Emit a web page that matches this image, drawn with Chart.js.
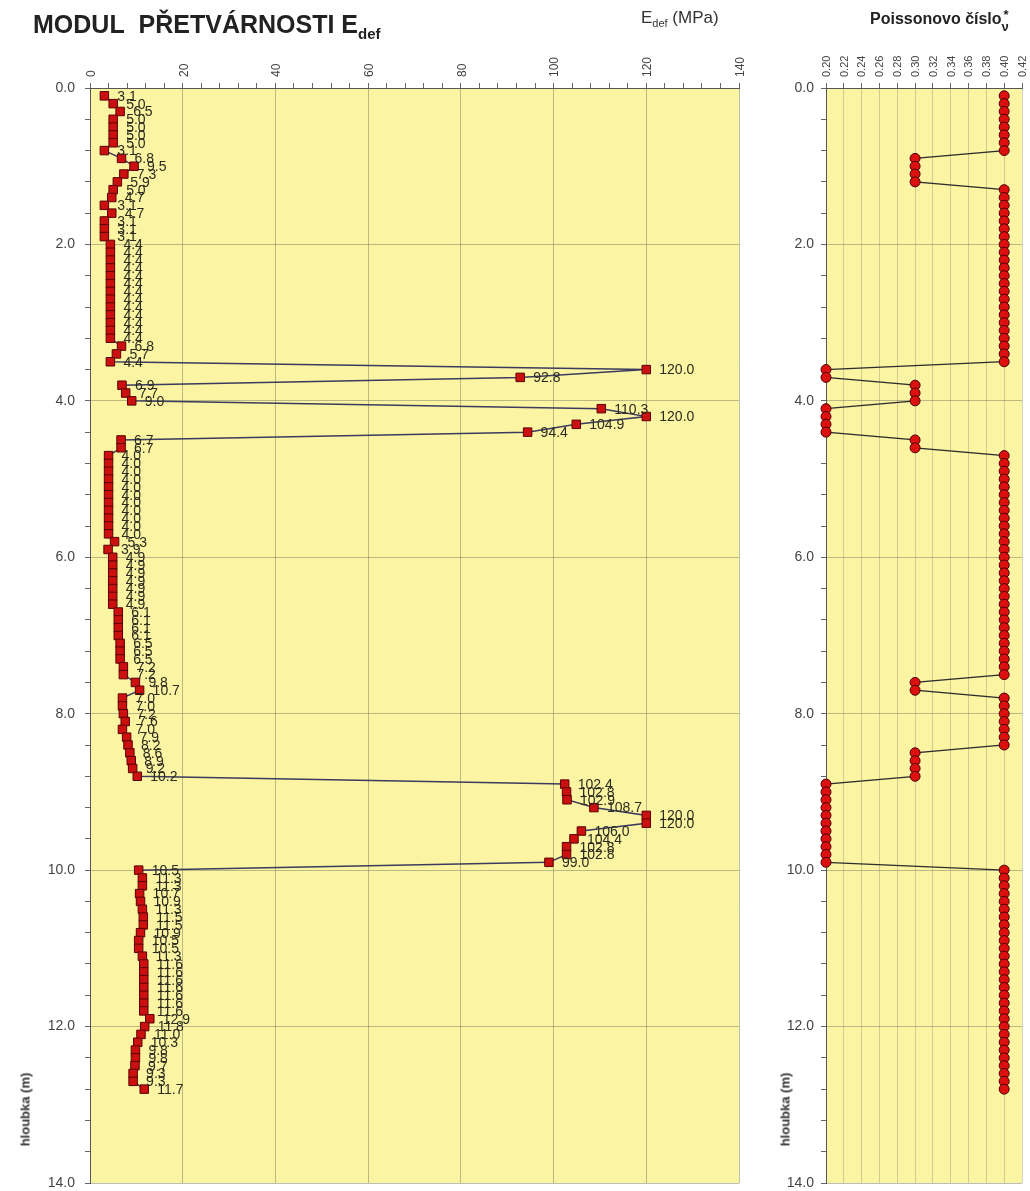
<!DOCTYPE html>
<html>
<head>
<meta charset="utf-8">
<title>Modul přetvárnosti</title>
<script src="https://cdn.jsdelivr.net/npm/chart.js@4.4.1/dist/chart.umd.min.js"></script>
<style>
  body { margin: 0; background: #fff; font-family: "Liberation Sans", Arial, sans-serif; }
  #page { position: relative; width: 1030px; height: 1191px; overflow: hidden; }
  canvas { position: absolute; top: 0; }
  .t { position: absolute; white-space: nowrap; color: #222; }
  .vt { position: absolute; transform: rotate(-90deg); transform-origin: center; font-weight: bold; font-size: 13px; color: #333; white-space: nowrap; }
</style>
</head>
<body>
<div id="page">
  <canvas id="edefChart" style="left:0" width="760" height="1191"></canvas>
  <canvas id="nuChart" style="left:760px" width="270" height="1191"></canvas>

  <div class="t" style="left:33px; top:10px; font-size:25px; font-weight:bold;">MODUL&nbsp; PŘETVÁRNOSTI E<sub style="font-size:15px;">def</sub></div>
  <div class="t" style="left:641px; top:8px; font-size:17px; color:#333;">E<sub style="font-size:11px;">def</sub> (MPa)</div>
  <div class="t" style="left:870px; top:10px; font-size:16px; font-weight:bold;">Poissonovo číslo<span style="position:relative; font-size:13px;"><span style="position:absolute; left:2px; top:-5px;">*</span><span style="position:relative; top:7px;">ν</span></span></div>
  <div class="vt" style="left:-20px; top:1102px; width:90px; text-align:center;">hloubka (m)</div>
  <div class="vt" style="left:740px; top:1102px; width:90px; text-align:center;">hloubka (m)</div>
</div>
<script>
// hloubka (m)
const depth = [
  0.1, 0.2, 0.3, 0.4, 0.5, 0.6, 0.7, 0.8, 0.9, 1.0,
  1.1, 1.2, 1.3, 1.4, 1.5, 1.6, 1.7, 1.8, 1.9, 2.0,
  2.1, 2.2, 2.3, 2.4, 2.5, 2.6, 2.7, 2.8, 2.9, 3.0,
  3.1, 3.2, 3.3, 3.4, 3.5, 3.6, 3.7, 3.8, 3.9, 4.0,
  4.1, 4.2, 4.3, 4.4, 4.5, 4.6, 4.7, 4.8, 4.9, 5.0,
  5.1, 5.2, 5.3, 5.4, 5.5, 5.6, 5.7, 5.8, 5.9, 6.0,
  6.1, 6.2, 6.3, 6.4, 6.5, 6.6, 6.7, 6.8, 6.9, 7.0,
  7.1, 7.2, 7.3, 7.4, 7.5, 7.6, 7.7, 7.8, 7.9, 8.0,
  8.1, 8.2, 8.3, 8.4, 8.5, 8.6, 8.7, 8.8, 8.9, 9.0,
  9.1, 9.2, 9.3, 9.4, 9.5, 9.6, 9.7, 9.8, 9.9, 10.0,
  10.1, 10.2, 10.3, 10.4, 10.5, 10.6, 10.7, 10.8, 10.9, 11.0,
  11.1, 11.2, 11.3, 11.4, 11.5, 11.6, 11.7, 11.8, 11.9, 12.0,
  12.1, 12.2, 12.3, 12.4, 12.5, 12.6, 12.7, 12.8
];

// Edef (MPa)
const edef = [
  3.1, 5.0, 6.5, 5.0, 5.0, 5.0, 5.0, 3.1, 6.8, 9.5,
  7.3, 5.9, 5.0, 4.7, 3.1, 4.7, 3.1, 3.1, 3.1, 4.4,
  4.4, 4.4, 4.4, 4.4, 4.4, 4.4, 4.4, 4.4, 4.4, 4.4,
  4.4, 4.4, 6.8, 5.7, 4.4, 120.0, 92.8, 6.9, 7.7, 9.0,
  110.3, 120.0, 104.9, 94.4, 6.7, 6.7, 4.0, 4.0, 4.0, 4.0,
  4.0, 4.0, 4.0, 4.0, 4.0, 4.0, 4.0, 5.3, 3.9, 4.9,
  4.9, 4.9, 4.9, 4.9, 4.9, 4.9, 6.1, 6.1, 6.1, 6.1,
  6.5, 6.5, 6.5, 7.2, 7.2, 9.8, 10.7, 7.0, 7.0, 7.2,
  7.6, 7.0, 7.9, 8.2, 8.6, 8.9, 9.2, 10.2, 102.4, 102.8,
  102.9, 108.7, 120.0, 120.0, 106.0, 104.4, 102.8, 102.8, 99.0, 10.5,
  11.3, 11.3, 10.7, 10.9, 11.3, 11.5, 11.5, 10.9, 10.5, 10.5,
  11.3, 11.6, 11.6, 11.6, 11.6, 11.6, 11.6, 11.6, 12.9, 11.8,
  11.0, 10.3, 9.8, 9.8, 9.7, 9.3, 9.3, 11.7
];

// Poissonovo číslo
const poisson = [
  0.40, 0.40, 0.40, 0.40, 0.40, 0.40, 0.40, 0.40, 0.30, 0.30,
  0.30, 0.30, 0.40, 0.40, 0.40, 0.40, 0.40, 0.40, 0.40, 0.40,
  0.40, 0.40, 0.40, 0.40, 0.40, 0.40, 0.40, 0.40, 0.40, 0.40,
  0.40, 0.40, 0.40, 0.40, 0.40, 0.20, 0.20, 0.30, 0.30, 0.30,
  0.20, 0.20, 0.20, 0.20, 0.30, 0.30, 0.40, 0.40, 0.40, 0.40,
  0.40, 0.40, 0.40, 0.40, 0.40, 0.40, 0.40, 0.40, 0.40, 0.40,
  0.40, 0.40, 0.40, 0.40, 0.40, 0.40, 0.40, 0.40, 0.40, 0.40,
  0.40, 0.40, 0.40, 0.40, 0.40, 0.30, 0.30, 0.40, 0.40, 0.40,
  0.40, 0.40, 0.40, 0.40, 0.30, 0.30, 0.30, 0.30, 0.20, 0.20,
  0.20, 0.20, 0.20, 0.20, 0.20, 0.20, 0.20, 0.20, 0.20, 0.40,
  0.40, 0.40, 0.40, 0.40, 0.40, 0.40, 0.40, 0.40, 0.40, 0.40,
  0.40, 0.40, 0.40, 0.40, 0.40, 0.40, 0.40, 0.40, 0.40, 0.40,
  0.40, 0.40, 0.40, 0.40, 0.40, 0.40, 0.40, 0.40
];

// popisky os
const edefTicks = [0, 20, 40, 60, 80, 100, 120, 140];
const depthTicks = [0, 2, 4, 6, 8, 10, 12, 14];
const poissonTicks = [0.20, 0.22, 0.24, 0.26, 0.28, 0.30, 0.32, 0.34, 0.36, 0.38, 0.40, 0.42];

Chart.defaults.font.family = '"Liberation Sans", Arial, sans-serif';
Chart.defaults.color = '#444';

const plotBg = '#fbf5a3';
const gridCol = 'rgba(110,110,90,0.45)';
const near = (v, list) => list.some(t => Math.abs(t - v) < 1e-6);
const noOverflow = s => { s.paddingTop = 0; s.paddingBottom = 0; s.paddingLeft = 0; s.paddingRight = 0; };

// žluté pozadí grafu
const areaBg = {
  id: 'areaBg',
  beforeDraw(chart) {
    const a = chart.chartArea, c = chart.ctx;
    c.save();
    c.fillStyle = plotBg;
    c.fillRect(a.left, a.top, a.right - a.left, a.bottom - a.top);
    c.restore();
  }
};

// hodnoty u bodů
const valueLabels = {
  id: 'valueLabels',
  afterDatasetsDraw(chart) {
    const c = chart.ctx;
    const meta = chart.getDatasetMeta(0);
    c.save();
    c.font = '14px "Liberation Sans", Arial, sans-serif';
    c.fillStyle = '#2b2b1e';
    c.textBaseline = 'middle';
    meta.data.forEach((pt, i) => c.fillText(edef[i].toFixed(1), pt.x + 13, pt.y + 1));
    c.restore();
  }
};

const depthAxis = (w, pad) => ({
  type: 'linear',
  reverse: true,
  min: 0,
  max: 14,
  afterFit: s => { s.width = w; noOverflow(s); },
  border: { color: '#555', width: 1 },
  grid: {
    color: ctx => near(ctx.tick.value, depthTicks) ? gridCol : 'rgba(0,0,0,0)',
    tickColor: '#666',
    tickLength: 5,
    lineWidth: 1
  },
  ticks: {
    stepSize: 0.4,
    autoSkip: false,
    padding: pad,
    font: { size: 14 },
    color: '#444',
    callback: v => near(v, depthTicks) ? v.toFixed(1) : ''
  }
});

new Chart(document.getElementById('edefChart'), {
  type: 'scatter',
  data: {
    datasets: [{
      data: depth.map((d, i) => ({ x: edef[i], y: d })),
      showLine: true,
      clip: false,
      borderColor: '#3b3b5e',
      borderWidth: 1.5,
      pointStyle: 'rect',
      pointRadius: 6,
      pointBackgroundColor: '#cc1010',
      pointBorderColor: '#5a0000',
      pointBorderWidth: 1
    }]
  },
  options: {
    responsive: false,
    animation: false,
    layout: { padding: { top: 0, right: 21, bottom: 8, left: 0 } },
    plugins: { legend: { display: false }, tooltip: { enabled: false } },
    scales: {
      x: {
        type: 'linear',
        position: 'top',
        min: 0,
        max: 140,
        afterFit: s => { s.height = 88; noOverflow(s); },
        border: { color: '#555', width: 1 },
        grid: {
          color: ctx => near(ctx.tick.value, edefTicks) ? gridCol : 'rgba(0,0,0,0)',
          tickColor: '#666',
          tickLength: 5
        },
        ticks: {
          stepSize: 4,
          autoSkip: false,
          minRotation: 90,
          maxRotation: 90,
          padding: 6,
          labelOffset: 16,
          font: { size: 12 },
          color: '#444',
          callback: v => near(v, edefTicks) ? String(v) : ''
        }
      },
      y: depthAxis(90, 10)
    }
  },
  plugins: [areaBg, valueLabels]
});

new Chart(document.getElementById('nuChart'), {
  type: 'scatter',
  data: {
    datasets: [{
      data: depth.map((d, i) => ({ x: poisson[i], y: d })),
      showLine: true,
      clip: false,
      borderColor: '#2e2e2e',
      borderWidth: 1.3,
      pointStyle: 'circle',
      pointRadius: 5,
      pointBackgroundColor: '#dd1010',
      pointBorderColor: '#4a0000',
      pointBorderWidth: 1
    }]
  },
  options: {
    responsive: false,
    animation: false,
    layout: { padding: { top: 0, right: 8, bottom: 8, left: 0 } },
    plugins: { legend: { display: false }, tooltip: { enabled: false } },
    scales: {
      x: {
        type: 'linear',
        position: 'top',
        min: 0.20,
        max: 0.42,
        afterFit: s => { s.height = 88; noOverflow(s); },
        afterBuildTicks: s => { s.ticks = poissonTicks.map(v => ({ value: v })); },
        border: { color: '#555', width: 1 },
        grid: { color: 'rgba(110,110,90,0.3)', tickColor: '#666', tickLength: 5 },
        ticks: {
          autoSkip: false,
          minRotation: 90,
          maxRotation: 90,
          padding: 6,
          labelOffset: 14,
          font: { size: 11 },
          color: '#444',
          callback: v => v.toFixed(2)
        }
      },
      y: depthAxis(66, 7)
    }
  },
  plugins: [areaBg]
});
</script>
</body>
</html>
